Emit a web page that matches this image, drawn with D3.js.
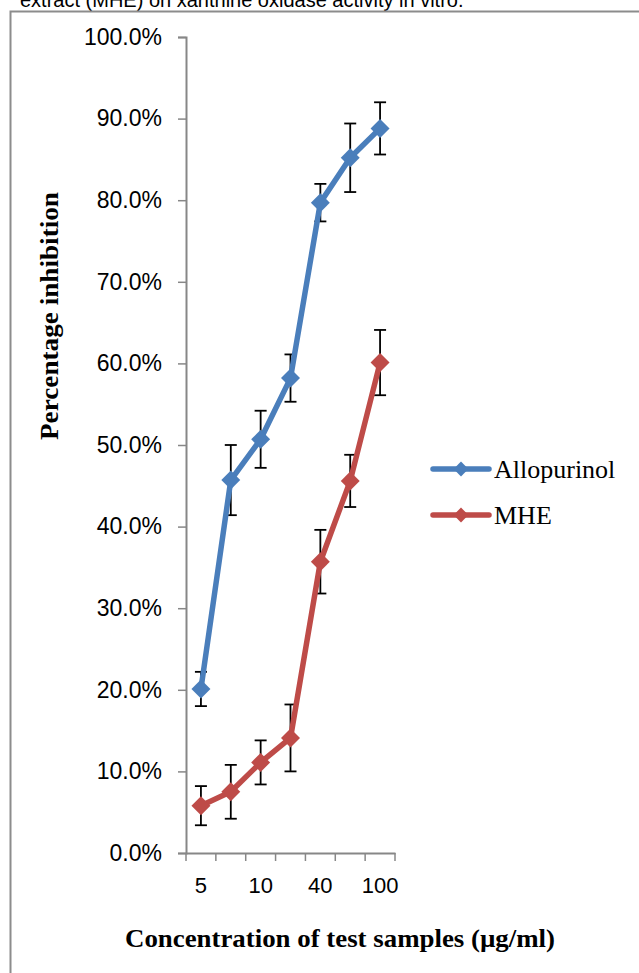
<!DOCTYPE html>
<html>
<head>
<meta charset="utf-8">
<script src="https://cdn.jsdelivr.net/npm/d3@7"></script>
<style>
  body { margin: 0; background: #fff; }
  svg { display: block; }
</style>
</head>
<body>
<svg id="chart" width="639" height="973"></svg>
<script>
// === Data ===
const concentrations = ["5", "7.5", "10", "20", "40", "80", "100"];
const shownLabels = ["5", "10", "40", "100"];
const allopurinolMean = [0.201, 0.457, 0.507, 0.582, 0.797, 0.852, 0.888];
const allopurinolErr  = [0.021, 0.043, 0.035, 0.029, 0.023, 0.042, 0.032];
const mheMean = [0.058, 0.075, 0.111, 0.141, 0.357, 0.456, 0.601];
const mheErr  = [0.024, 0.033, 0.027, 0.041, 0.039, 0.032, 0.040];
const yTicks = [0, 0.1, 0.2, 0.3, 0.4, 0.5, 0.6, 0.7, 0.8, 0.9, 1.0];

const series = [
  { name: "Allopurinol", color: "#4A7EBB", mean: allopurinolMean, err: allopurinolErr },
  { name: "MHE", color: "#BE4B48", mean: mheMean, err: mheErr }
];

const svg = d3.select("#chart");
const axisColor = "#878787";

// caption (cut off at the top, like the page it came from) + frame
svg.append("text")
  .attr("x", 20)
  .attr("y", 7)
  .attr("font-family", "Liberation Sans, Arial, sans-serif")
  .attr("font-size", 20)
  .attr("fill", "#000")
  .text("extract (MHE) on xanthine oxidase activity in vitro.");

svg.append("path")
  .attr("d", "M10.5,973 V11.5 H639")
  .attr("fill", "none")
  .attr("stroke", "#8c8c8c")
  .attr("stroke-width", 2);

// === Scales ===
const x = d3.scaleBand()
  .domain(concentrations)
  .range([186, 395])
  .padding(0);

const y = d3.scaleLinear()
  .domain([0, 1])
  .range([853, 37]);

const cx = d => x(d) + x.bandwidth() / 2;

// Y axis
const yAxis = svg.append("g")
  .attr("transform", "translate(186,0)")
  .call(d3.axisLeft(y).tickValues(yTicks).tickFormat(d3.format(".1%")).tickSize(8).tickPadding(16));
yAxis.select(".domain").attr("stroke", axisColor).attr("stroke-width", 2);
yAxis.selectAll(".tick line").attr("stroke", axisColor).attr("stroke-width", 1.5);
yAxis.selectAll(".tick text")
  .attr("font-family", "Liberation Sans, Arial, sans-serif")
  .attr("font-size", 23)
  .attr("fill", "#000");

// X axis (labels only on every other category)
const xAxis = svg.append("g")
  .attr("transform", "translate(0,853)")
  .call(d3.axisBottom(x).tickSize(0).tickPadding(24)
    .tickFormat(d => shownLabels.includes(d) ? d : ""));
xAxis.select(".domain").attr("stroke", axisColor).attr("stroke-width", 2);
xAxis.selectAll(".tick text")
  .attr("font-family", "Liberation Sans, Arial, sans-serif")
  .attr("font-size", 22)
  .attr("fill", "#000");

// tick marks between categories
const edges = concentrations.map(d => x(d)).concat([x.range()[1]]);
xAxis.selectAll(".edge-tick")
  .data(edges)
  .enter()
  .append("line")
  .attr("class", "edge-tick")
  .attr("x1", d => d)
  .attr("x2", d => d)
  .attr("y1", 0)
  .attr("y2", 8)
  .attr("stroke", axisColor)
  .attr("stroke-width", 1.5);

// === Error bars ===
series.forEach(s => {
  const g = svg.append("g").attr("stroke", "#000").attr("stroke-width", 1.8);
  concentrations.forEach((c, i) => {
    const top = y(s.mean[i] + s.err[i]);
    const bot = y(s.mean[i] - s.err[i]);
    g.append("line").attr("x1", cx(c)).attr("x2", cx(c)).attr("y1", top).attr("y2", bot);
    g.append("line").attr("x1", cx(c) - 6).attr("x2", cx(c) + 6).attr("y1", top).attr("y2", top);
    g.append("line").attr("x1", cx(c) - 6).attr("x2", cx(c) + 6).attr("y1", bot).attr("y2", bot);
  });
});

// === Lines + markers ===
const line = d3.line()
  .x((d, i) => cx(concentrations[i]))
  .y(d => y(d));

const diamond = d3.symbol().type(d3.symbolSquare).size(180);

series.forEach(s => {
  svg.append("path")
    .datum(s.mean)
    .attr("d", line)
    .attr("fill", "none")
    .attr("stroke", s.color)
    .attr("stroke-width", 5.5)
    .attr("stroke-linejoin", "round")
    .attr("stroke-linecap", "round");

  svg.append("g").selectAll("path")
    .data(s.mean)
    .enter()
    .append("path")
    .attr("d", diamond)
    .attr("transform", (d, i) => `translate(${cx(concentrations[i])},${y(d)}) rotate(45)`)
    .attr("fill", s.color);
});

// === Legend ===
const legend = svg.append("g").attr("transform", "translate(433,469)");
series.forEach((s, i) => {
  const row = legend.append("g").attr("transform", `translate(0,${i * 46})`);
  row.append("line")
    .attr("x1", 0).attr("x2", 56)
    .attr("stroke", s.color)
    .attr("stroke-width", 5.5)
    .attr("stroke-linecap", "round");
  row.append("path")
    .attr("d", d3.symbol().type(d3.symbolSquare).size(110))
    .attr("transform", "translate(28,0) rotate(45)")
    .attr("fill", s.color);
  row.append("text")
    .attr("x", 61)
    .attr("y", 9)
    .attr("font-family", "Liberation Serif, Times New Roman, serif")
    .attr("font-size", 26)
    .attr("fill", "#000")
    .text(s.name);
});

// === Axis titles ===
svg.append("text")
  .attr("transform", "translate(58,316) rotate(-90)")
  .attr("text-anchor", "middle")
  .attr("font-family", "Liberation Serif, Times New Roman, serif")
  .attr("font-weight", "bold")
  .attr("font-size", 25)
  .attr("textLength", 248)
  .attr("lengthAdjust", "spacingAndGlyphs")
  .text("Percentage inhibition");

svg.append("text")
  .attr("x", 340)
  .attr("y", 947)
  .attr("text-anchor", "middle")
  .attr("font-family", "Liberation Serif, Times New Roman, serif")
  .attr("font-weight", "bold")
  .attr("font-size", 25)
  .attr("textLength", 430)
  .attr("lengthAdjust", "spacingAndGlyphs")
  .text("Concentration of test samples (µg/ml)");
</script>
</body>
</html>
